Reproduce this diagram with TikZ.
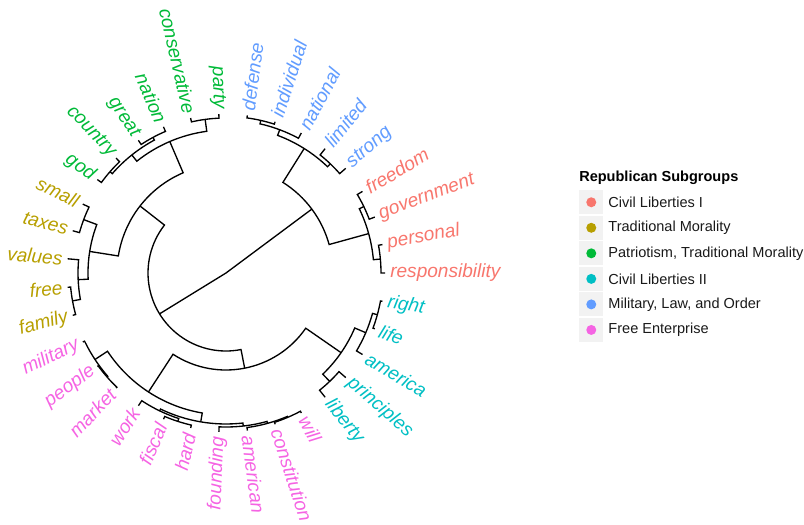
\documentclass[tikz,border=0pt]{standalone}
\usepackage{fontspec}
\setmainfont{Liberation Sans}
\usetikzlibrary{positioning}
\definecolor{civone}{HTML}{F8766D}
\definecolor{tradmor}{HTML}{B79F00}
\definecolor{patriot}{HTML}{00BA38}
\definecolor{civtwo}{HTML}{00BFC4}
\definecolor{milord}{HTML}{619CFF}
\definecolor{freeent}{HTML}{F564E3}
\definecolor{keybg}{HTML}{F2F2F2}

\begin{document}
\begin{tikzpicture}[
  x=0.75pt,y=0.75pt,
  branch/.style={line width=1pt},
  leaf/.style={font=\fontsize{14.3}{16}\selectfont\itshape,inner sep=0pt},
  key/.style={fill=keybg,minimum width=18pt,minimum height=18pt,inner sep=0pt},
  dot/.style={circle,inner sep=0pt,minimum size=7.5pt},
  keytext/.style={font=\fontsize{10.9}{13}\selectfont,text=black!90,inner sep=0pt}
]
\useasboundingbox (0,0) rectangle (804,525);

\begin{scope}[shift={(226,252)}]
% leaf labels, 35 words round the circle
\foreach \w/\c [count=\i] in {defense/milord,individual/milord,national/milord,
    limited/milord,strong/milord,freedom/civone,government/civone,personal/civone,
    responsibility/civone,right/civtwo,life/civtwo,america/civtwo,principles/civtwo,
    liberty/civtwo,will/freeent,constitution/freeent,american/freeent,founding/freeent,
    hard/freeent,fiscal/freeent,work/freeent,market/freeent,people/freeent,
    military/freeent,family/tradmor,free/tradmor,values/tradmor,taxes/tradmor,
    small/tradmor,god/patriot,country/patriot,great/patriot,nation/patriot,
    conservative/patriot,party/patriot}{
  \pgfmathsetmacro\a{82.3-(\i-1)*360/35}
  \pgfmathsetmacro\b{\a+180}
  \ifnum\i<18
    \node[leaf,text=\c,anchor=west,rotate=\a] (\w) at (\a:164) {\w};
  \else
    \node[leaf,text=\c,anchor=east,rotate=\b] (\w) at (\a:164) {\w};
  \fi
}

% merges: angle/radius of child 1, angle/radius of child 2, radius of merge
\foreach \aa/\ra/\ab/\rb/\rp in {
    82.30/159/72.01/159/156.5, 77.16/156.5/61.73/159/153,
    51.44/159/41.16/159/151, 69.44/153/46.30/151/147,
    30.87/159/20.59/159/153, 10.30/159/0.01/159/155,
    25.73/153/5.16/155/148, 57.87/147/15.44/148/107,
    -10.27/159/-20.56/159/157, -15.41/157/-30.84/159/152,
    -41.13/159/-51.41/159/150, -23.13/152/-46.27/150/140,
    -61.70/159/-71.99/159/157, -66.85/157/-82.27/159/156,
    -74.56/156/-92.56/159/154, -102.84/159/-113.13/159/156,
    -107.99/156/-123.41/159/153, -83.56/154/-115.70/153/151,
    -133.70/159/-143.99/159/158, -138.85/158/-154.27/159/157,
    -99.63/151/-146.56/157/142, -34.70/140/-123.10/142/97,
    -164.56/159/-174.84/159/156, -169.70/156/-185.13/159/148,
    -195.41/159/-205.70/159/152, -177.42/148/-200.56/152/138,
    -215.99/159/-226.27/159/154, -236.56/159/-246.84/159/154,
    -221.13/154/-241.70/154/151, -257.13/159/-267.41/159/155,
    -231.42/151/-262.27/155/143, -188.99/138/-246.85/143/109,
    -78.90/97/-217.92/109/78}
  \draw[branch] (\aa:\ra) -- (\aa:\rp) arc[start angle=\aa,end angle=\ab,radius=\rp] -- (\ab:\rb);
\coordinate (root) at (0,0);
\draw[branch] (-148.41:78) -- (root) -- (36.66:107);
\end{scope}

% legend
\node[font=\bfseries\fontsize{10.9}{13}\selectfont,text=black,anchor=west,inner sep=0pt] (title) at (579,347) {Republican Subgroups};
\node[key,anchor=north west] (k1) at (579,335) {};
\node[key,below=0.75pt of k1] (k2) {};
\node[key,below=0.75pt of k2] (k3) {};
\node[key,below=0.75pt of k3] (k4) {};
\node[key,below=0.75pt of k4] (k5) {};
\node[key,below=0.75pt of k5] (k6) {};
\node[dot,fill=civone] (d1) at (k1) {};
\node[dot,fill=tradmor] (d2) at (k2) {};
\node[dot,fill=patriot] (d3) at (k3) {};
\node[dot,fill=civtwo] (d4) at (k4) {};
\node[dot,fill=milord] (d5) at (k5) {};
\node[dot,fill=freeent] (d6) at (k6) {};
\node[keytext,right=3.5pt of k1] (t1) {Civil Liberties I};
\node[keytext,right=3.5pt of k2] (t2) {Traditional Morality};
\node[keytext,right=3.5pt of k3] (t3) {Patriotism, Traditional Morality};
\node[keytext,right=3.5pt of k4] (t4) {Civil Liberties II};
\node[keytext,right=3.5pt of k5] (t5) {Military, Law, and Order};
\node[keytext,right=3.5pt of k6] (t6) {Free Enterprise};
\end{tikzpicture}
\end{document}
